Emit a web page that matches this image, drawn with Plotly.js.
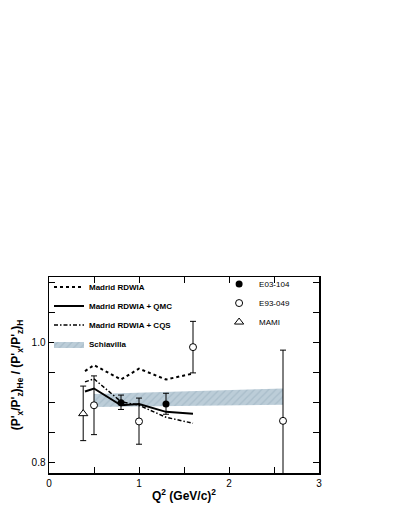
<!DOCTYPE html>
<html>
<head>
<meta charset="utf-8">
<script src="https://cdn.plot.ly/plotly-3.0.1.min.js"></script>
<style>html,body{margin:0;padding:0;background:#fff}</style>
</head>
<body>
<div id="chart" style="width:395px;height:511px"></div>
<script>
// Madrid model curves
const qModel = [0.4, 0.5, 0.8, 1.0, 1.3, 1.6];
const rdwia = [0.953, 0.963, 0.939, 0.957, 0.939, 0.949];
const rdwiaQmc = [0.919, 0.924, 0.896, 0.898, 0.885, 0.882];
const rdwiaCqs = [0.935, 0.940, 0.902, 0.896, 0.876, 0.866];

// Schiavilla band
const qBand = [0.5, 2.6];
const bandLow = [0.893, 0.897];
const bandHigh = [0.915, 0.924];

// measurements
const qE03 = [0.8, 1.3];
const e03 = [0.900, 0.898];
const e03Up = [0.013, 0.018];
const e03Down = [0.011, 0.017];

const qE93 = [0.5, 1.0, 1.6, 2.6];
const e93 = [0.896, 0.869, 0.993, 0.870];
const e93Up = [0.049, 0.039, 0.043, 0.118];
const e93Down = [0.049, 0.038, 0.043, 0.118];

const qMami = [0.38];
const mami = [0.882];
const mamiUp = [0.046];
const mamiDown = [0.045];

const FONT = 'Liberation Sans, Arial, Helvetica, sans-serif';

function errBars(up, down) {
    return {type: 'data', symmetric: false, array: up, arrayminus: down,
            color: '#000', thickness: 1, width: 3};
}

const traces = [
    {x: qBand, y: bandLow, type: 'scatter', mode: 'lines', showlegend: false,
     line: {width: 0}, hoverinfo: 'skip'},
    {x: qBand, y: bandHigh, type: 'scatter', mode: 'lines', name: 'Schiavilla',
     line: {width: 0}, fill: 'tonexty', fillcolor: '#bccdd8',
     fillpattern: {shape: '/', bgcolor: '#bccdd8', fgcolor: '#a9bdca', size: 5, solidity: 0.25},
     legendrank: 4},
    {x: qModel, y: rdwia, type: 'scatter', mode: 'lines', name: 'Madrid RDWIA',
     line: {color: '#000', width: 2, dash: 'dot'}, legendrank: 1},
    {x: qModel, y: rdwiaQmc, type: 'scatter', mode: 'lines', name: 'Madrid RDWIA + QMC',
     line: {color: '#000', width: 2}, legendrank: 2},
    {x: qModel, y: rdwiaCqs, type: 'scatter', mode: 'lines', name: 'Madrid RDWIA + CQS',
     line: {color: '#000', width: 1.5, dash: '4px,2px,1.5px,2px'}, legendrank: 3},
    {x: qE03, y: e03, type: 'scatter', mode: 'markers', name: 'E03-104', legend: 'legend2',
     marker: {symbol: 'circle', size: 7, color: '#000'},
     error_y: errBars(e03Up, e03Down), legendrank: 1},
    // open markers are white-filled so they sit cleanly over the band
    {x: qE93, y: e93, type: 'scatter', mode: 'markers', name: 'E93-049', legend: 'legend2',
     marker: {symbol: 'circle', size: 7, color: '#fff', line: {width: 1, color: '#000'}},
     error_y: errBars(e93Up, e93Down), legendrank: 2},
    {x: qMami, y: mami, type: 'scatter', mode: 'markers', name: 'MAMI', legend: 'legend2',
     marker: {symbol: 'triangle-up', size: 8, color: '#fff', line: {width: 1, color: '#000'}},
     error_y: errBars(mamiUp, mamiDown), legendrank: 3}
];

const axisCommon = {
    showgrid: false, zeroline: false, showline: true, linecolor: '#000', linewidth: 1.5,
    mirror: 'ticks', ticks: 'inside', ticklen: 6, tickwidth: 1, tickcolor: '#000',
    automargin: false,
    tickfont: {family: FONT, size: 10, color: '#000'}
};

const layout = {
    width: 395, height: 511,
    margin: {l: 49, r: 76, t: 277, b: 38},
    paper_bgcolor: '#fff', plot_bgcolor: '#fff',
    showlegend: true,
    xaxis: Object.assign({}, axisCommon, {
        range: [0, 3], dtick: 1, tick0: 0,
        minor: {dtick: 0.5, ticks: 'inside', ticklen: 6, tickcolor: '#000'},
        title: {text: 'Q<sup>2</sup> (GeV/c)<sup>2</sup>', standoff: 4,
                font: {family: FONT, size: 12, weight: 'bold', color: '#000'}}
    }),
    yaxis: Object.assign({}, axisCommon, {
        range: [0.783, 1.11], dtick: 0.2, tick0: 0, tickformat: '.1f',
        minor: {dtick: 0.05, ticks: 'inside', ticklen: 6, tickcolor: '#000'},
        title: {text: "(P'<sub>x</sub>/P'<sub>z</sub>)<sub>He</sub> / (P'<sub>x</sub>/P'<sub>z</sub>)<sub>H</sub>",
                standoff: 8, font: {family: FONT, size: 12, weight: 'bold', color: '#000'}}
    }),
    legend: {x: 0, xanchor: 'left', y: 1.023, yanchor: 'top', bgcolor: 'rgba(0,0,0,0)',
             traceorder: 'normal', tracegroupgap: 0,
             font: {family: FONT, size: 8, weight: 'bold', color: '#000'}},
    legend2: {x: 0.63, xanchor: 'left', y: 1.038, yanchor: 'top', bgcolor: 'rgba(0,0,0,0)',
              traceorder: 'normal', tracegroupgap: 0,
              font: {family: FONT, size: 8, color: '#000'}}
};

Plotly.newPlot('chart', traces, layout, {displayModeBar: false, staticPlot: true});
</script>
</body>
</html>
